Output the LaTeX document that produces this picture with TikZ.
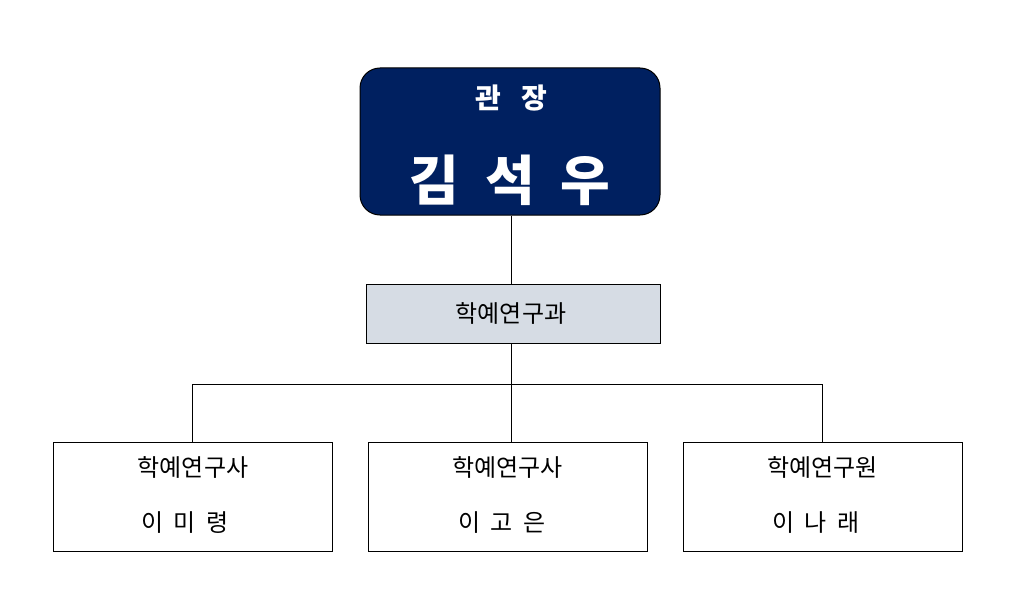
\documentclass[tikz,border=0pt]{standalone}
\usepackage{fontspec}
\newfontfamily\kr{Noto Sans CJK KR}
\usetikzlibrary{positioning}
\definecolor{navy}{HTML}{002060}
\definecolor{palegray}{HTML}{D6DCE4}
\tikzset{
  headbox/.style={draw=black, line width=1pt, fill=navy, rounded corners=20pt, minimum width=300pt, minimum height=147pt, inner sep=0pt},
  deptbox/.style={draw=black, line width=1pt, fill=palegray, minimum width=294pt, minimum height=59pt, inner sep=0pt},
  staffbox/.style={draw=black, line width=1pt, fill=white, minimum width=279pt, minimum height=109pt, inner sep=0pt},
  conn/.style={draw=black, line width=1pt},
  lbl/.style={font=\kr\fontsize{24}{26}\selectfont, text=black, inner sep=0pt}
}
\newcommand{\gapA}{\hspace{10pt}}
\begin{document}
\begin{tikzpicture}[x=1pt,y=-1pt]
\useasboundingbox (0,0) rectangle (1024,615);
\node[headbox] (head) at (510,141.5) {};
\node[text=white, font=\kr\bfseries\fontsize{28}{30}\selectfont, inner sep=0pt] (title) at (511,98) {관\hspace{20pt}장};
\node[text=white, font=\kr\bfseries\fontsize{54}{56}\selectfont, inner sep=0pt] (name) at (510,180) {김\hspace{26pt}석\hspace{26pt}우};
\node[deptbox] (dept) at (513,313.5) {};
\node[lbl] (deptlbl) at (511,313) {학예연구과};
\node[staffbox] (s1) at (193,496.5) {};
\node[staffbox] (s2) at (507.5,496.5) {};
\node[staffbox] (s3) at (822.5,496.5) {};
\node[lbl] (s1a) at (193,467) {학예연구사};
\node[lbl] (s1b) at (185,523) {이\gapA 미\gapA 령};
\node[lbl] (s2a) at (507.5,467) {학예연구사};
\node[lbl] (s2b) at (502,523) {이\gapA 고\gapA 은};
\node[lbl] (s3a) at (822.5,467) {학예연구원};
\node[lbl] (s3b) at (816,523) {이\gapA 나\gapA 래};
\coordinate (hl) at (192,384);
\coordinate (hr) at (822,384);
\coordinate (hm) at (511,384);
\draw[conn] (head.south -| hm) -- (dept.north -| hm);
\draw[conn] (dept.south -| hm) -- (s2.north -| hm);
\draw[conn] (s1.north -| hl) -- (hl) -- (hr) -- (s3.north -| hr);
\end{tikzpicture}
\end{document}
